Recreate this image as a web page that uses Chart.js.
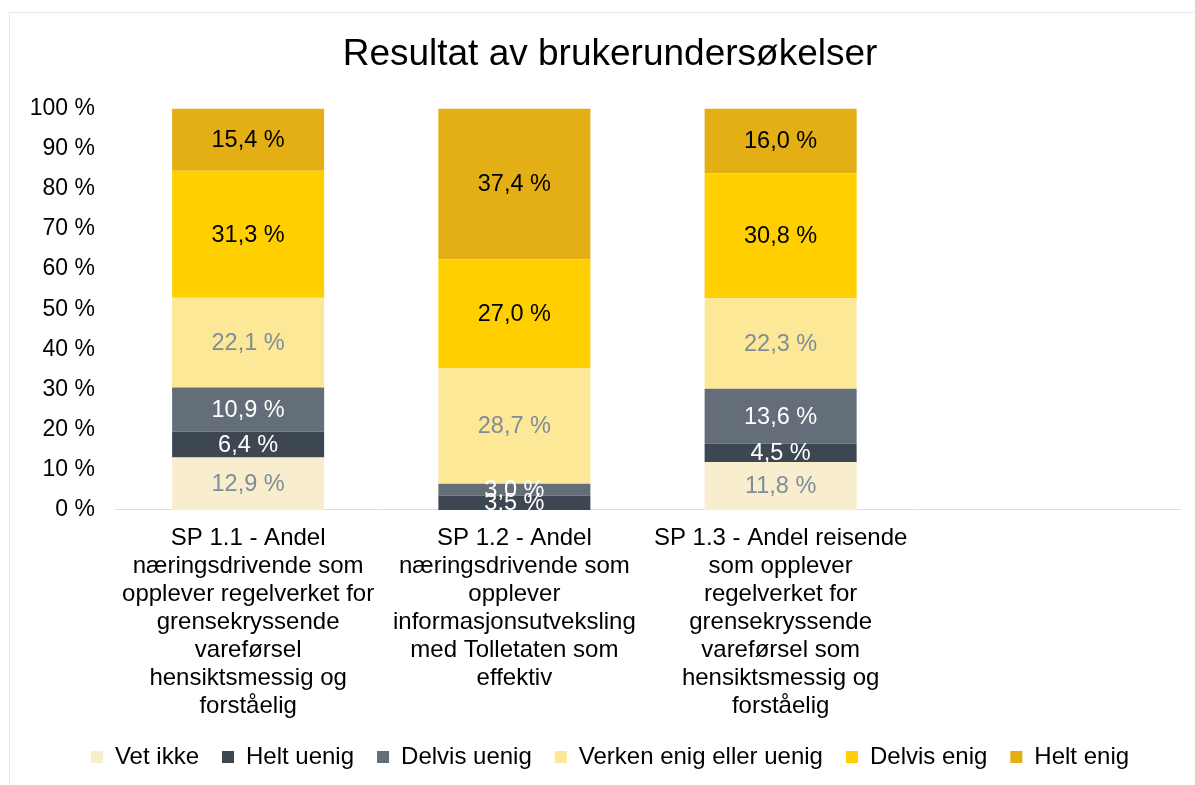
<!DOCTYPE html>
<html lang="nb">
<head>
<meta charset="UTF-8">
<title>Resultat av brukerundersøkelser</title>
<script src="https://cdn.jsdelivr.net/npm/chart.js"></script>
<style>
  html, body { margin: 0; padding: 0; background: #fff; overflow: hidden; }
  #wrap { position: absolute; left: 9px; top: 12px; width: 1200px; height: 790px; border: 1px solid #e6e8ee; }
</style>
</head>
<body>
<div id="wrap">
  <canvas id="chart" width="1200" height="772"></canvas>
</div>
<script>
// categories (4th slot is empty in the original)
const categories = [
  ['SP 1.1 - Andel', 'næringsdrivende som', 'opplever regelverket for', 'grensekryssende', 'vareførsel', 'hensiktsmessig og', 'forståelig'],
  ['SP 1.2 - Andel', 'næringsdrivende som', 'opplever', 'informasjonsutveksling', 'med Tolletaten som', 'effektiv'],
  ['SP 1.3 - Andel reisende', 'som opplever', 'regelverket for', 'grensekryssende', 'vareførsel som', 'hensiktsmessig og', 'forståelig'],
  ''
];

// values in percent, as printed on the bars
const vetIkke      = [12.9, 0,    11.8, null];
const heltUenig    = [6.4,  3.5,  4.5,  null];
const delvisUenig  = [10.9, 3.0,  13.6, null];
const verken       = [22.1, 28.7, 22.3, null];
const delvisEnig   = [31.3, 27.0, 30.8, null];
const heltEnig     = [15.4, 37.4, 16.0, null];

const yTicks = [0, 10, 20, 30, 40, 50, 60, 70, 80, 90, 100];

const series = [
  { label: 'Vet ikke', raw: vetIkke, color: '#f8edcc', text: '#7f8c9b' },
  { label: 'Helt uenig', raw: heltUenig, color: '#3d4752', text: '#ffffff' },
  { label: 'Delvis uenig', raw: delvisUenig, color: '#646e78', text: '#ffffff' },
  { label: 'Verken enig eller uenig', raw: verken, color: '#fde898', text: '#7f8c9b' },
  { label: 'Delvis enig', raw: delvisEnig, color: '#ffcf00', text: '#000000' },
  { label: 'Helt enig', raw: heltEnig, color: '#e4af14', text: '#000000' }
];

// 100 % stacked: scale each column to its total
const totals = categories.map((c, i) => series.reduce((s, d) => s + (d.raw[i] || 0), 0));

const FONT = "'Liberation Sans', Arial, sans-serif";

const barLabels = {
  id: 'barLabels',
  afterDatasetsDraw(chart) {
    const ctx = chart.ctx;
    ctx.save();
    ctx.font = '23.5px ' + FONT;
    ctx.textAlign = 'center';
    ctx.textBaseline = 'middle';
    chart.data.datasets.forEach((ds, di) => {
      const meta = chart.getDatasetMeta(di);
      meta.data.forEach((bar, i) => {
        const v = ds.rawValues[i];
        if (!v) return;
        ctx.fillStyle = ds.textColor;
        const txt = v.toFixed(1).replace('.', ',') + ' %';
        ctx.fillText(txt, bar.x, (bar.y + bar.base) / 2 + 1);
      });
    });
    ctx.restore();
  }
};

// the y labels reach into the left padding; widen the axis box so they are not clipped
const yLabelRoom = {
  id: 'yLabelRoom',
  afterLayout(chart) { chart.scales.y.left = 0; }
};

new Chart(document.getElementById('chart'), {
  type: 'bar',
  data: {
    labels: categories,
    datasets: series.map(s => ({
      label: s.label,
      data: s.raw.map((v, i) => v == null ? null : v / totals[i] * 100),
      rawValues: s.raw,
      textColor: s.text,
      backgroundColor: s.color,
      borderWidth: 0,
      barPercentage: 0.571,
      categoryPercentage: 1
    }))
  },
  options: {
    responsive: false,
    animation: false,
    layout: { padding: { left: 30, right: 30, top: 0, bottom: 6 } },
    plugins: {
      title: {
        display: true,
        text: 'Resultat av brukerundersøkelser',
        color: '#000',
        font: { family: FONT, size: 37, weight: 'normal' },
        padding: { top: 20, bottom: 31 }
      },
      legend: {
        position: 'bottom',
        labels: {
          color: '#000',
          font: { family: FONT, size: 24 },
          boxWidth: 12,
          boxHeight: 12,
          padding: 11,
          // small padding keeps the legend close to the axis labels,
          // a trailing space restores the gap between items
          generateLabels: chart => {
            const items = Chart.defaults.plugins.legend.labels.generateLabels(chart);
            items.forEach((it, i) => { if (i < items.length - 1) it.text += '\u2002'; });
            return items;
          }
        }
      },
      tooltip: { enabled: false }
    },
    scales: {
      x: {
        stacked: true,
        grid: { display: false, drawTicks: false },
        border: { display: true, color: '#dcdfe6', width: 1 },
        ticks: {
          color: '#000',
          font: { family: FONT, size: 24, lineHeight: 1.167 },
          padding: 14,
          autoSkip: false,
          maxRotation: 0
        }
      },
      y: {
        stacked: true,
        min: 0,
        max: 100,
        grid: { display: false, drawTicks: false },
        border: { display: false },
        afterBuildTicks: axis => { axis.ticks = yTicks.map(v => ({ value: v })); },
        afterFit: axis => { axis.width = 75; },
        ticks: {
          color: '#000',
          font: { family: FONT, size: 23 },
          padding: 20,
          callback: v => v + ' %'
        }
      }
    }
  },
  plugins: [barLabels, yLabelRoom]
});
</script>
</body>
</html>
